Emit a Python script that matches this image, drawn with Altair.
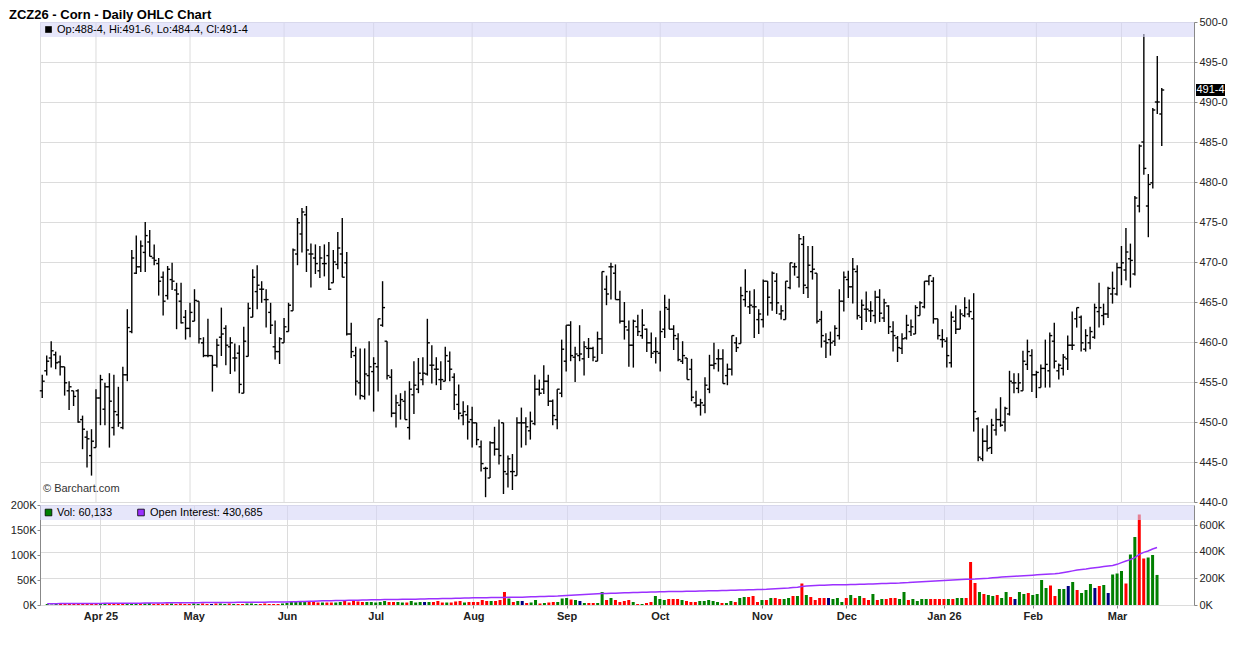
import altair as alt
import pandas as pd
import numpy as np

FONT = "Liberation Sans"
TITLE = "ZCZ26 - Corn - Daily OHLC Chart"
FIRST_DAY = "2025-03-14"
LAST_DAY = "2026-03-13"
HOLIDAYS = ["2025-04-18", "2025-05-26", "2025-06-19", "2025-07-04", "2025-09-01",
            "2025-11-27", "2025-12-25", "2026-01-01", "2026-01-19", "2026-02-16"]
MONTH_LABELS = ["Apr 25", "May", "Jun", "Jul", "Aug", "Sep", "Oct", "Nov", "Dec",
                "Jan 26", "Feb", "Mar"]
PRICE_TICKS = [440, 445, 450, 455, 460, 465, 470, 475, 480, 485, 490, 495, 500]
VOL_TICKS = [0, 50000, 100000, 150000, 200000]
OI_TICKS = [0, 200000, 400000, 600000]

OPEN = [453.9, 456.4, 458.0, 458.4, 457.5, 456.9, 453.9, 453.9, 453.9, 450.3,
        448.1, 445.8, 446.8, 453.0, 451.6, 454.4, 449.3, 450.9, 449.3, 455.9,
        461.3, 468.6, 469.4, 471.2, 472.5, 470.5, 469.8, 468.1, 465.8, 467.8,
        466.5, 465.1, 463.1, 461.7, 462.6, 465.1, 459.9, 458.3, 458.3, 457.1,
        460.6, 461.7, 459.4, 458.0, 458.6, 453.6, 458.2, 463.1, 466.3, 466.6,
        465.3, 463.7, 459.4, 458.8, 459.9, 461.3, 463.9, 471.0, 473.5, 475.9,
        471.0, 470.5, 468.9, 469.8, 470.8, 467.4, 469.7, 471.0, 469.9, 461.0,
        458.3, 454.9, 453.2, 455.8, 456.3, 456.9, 462.1, 460.1, 455.6, 451.1,
        452.1, 452.6, 449.3, 453.4, 454.1, 455.3, 456.0, 457.1, 456.6, 455.3,
        455.1, 457.6, 455.6, 452.2, 450.8, 450.9, 450.3, 449.9, 446.9, 444.2,
        443.0, 447.4, 446.6, 449.9, 443.5, 443.8, 443.3, 449.9, 449.9, 448.9,
        449.8, 454.1, 454.1, 455.1, 452.6, 450.3, 453.6, 457.6, 462.1, 458.1,
        458.3, 457.9, 459.2, 459.2, 457.6, 460.4, 466.6, 469.4, 468.6, 465.3,
        462.6, 461.5, 459.6, 461.9, 460.8, 461.6, 459.9, 458.8, 458.6, 461.6,
        464.1, 461.6, 460.4, 457.6, 458.0, 456.6, 452.4, 452.1, 452.1, 454.1,
        457.1, 457.9, 457.9, 455.8, 456.6, 459.9, 459.8, 465.3, 464.4, 464.4,
        462.8, 462.8, 467.6, 464.9, 467.6, 463.5, 462.8, 466.8, 469.4, 468.1,
        472.2, 466.8, 468.8, 468.6, 462.8, 460.1, 460.3, 460.1, 460.8, 465.1,
        467.8, 466.9, 468.8, 463.1, 464.1, 463.9, 463.3, 465.6, 463.0, 464.5,
        461.3, 460.5, 459.2, 460.5, 461.3, 461.0, 463.3, 464.4, 467.6, 467.6,
        462.9, 460.3, 460.1, 457.4, 462.6, 461.6, 463.3, 463.5, 462.9, 450.4,
        445.4, 447.6, 446.8, 449.0, 450.3, 450.0, 451.0, 454.9, 454.2, 453.9,
        457.2, 458.3, 455.9, 454.3, 456.7, 456.4, 460.1, 456.4, 456.7, 457.9,
        459.6, 462.9, 463.1, 459.1, 459.9, 460.6, 463.8, 463.3, 463.5, 466.0,
        466.0, 469.3, 469.0, 470.4, 468.5, 477.0, 485.0, 477.0, 479.9, 490.0, 488.5]

HIGH = [455.9, 458.3, 460.1, 458.8, 458.3, 456.9, 455.1, 453.9, 454.1, 450.8,
        448.9, 449.1, 454.1, 455.9, 454.9, 456.1, 455.9, 454.4, 456.9, 464.1,
        471.5, 473.3, 472.7, 475.0, 474.0, 472.2, 470.5, 468.8, 469.5, 469.9,
        467.4, 467.4, 464.0, 464.9, 466.6, 465.1, 460.6, 462.9, 458.3, 460.4,
        464.3, 462.1, 460.6, 459.8, 459.6, 461.9, 464.9, 469.1, 469.6, 467.6,
        466.6, 464.9, 462.7, 460.6, 463.0, 464.9, 471.7, 475.5, 476.75, 477.0,
        472.3, 472.2, 472.0, 472.2, 472.5, 471.5, 473.75, 475.5, 471.25, 462.4,
        459.4, 459.2, 459.2, 460.1, 458.1, 462.9, 467.6, 460.1, 456.6, 453.4,
        453.6, 453.9, 455.1, 457.6, 458.0, 458.1, 462.9, 459.6, 458.1, 457.6,
        459.4, 458.8, 456.1, 454.7, 452.6, 452.1, 451.9, 449.9, 447.7, 444.4,
        447.6, 449.4, 450.3, 449.9, 445.8, 446.0, 450.6, 451.8, 450.6, 451.3,
        455.9, 455.3, 457.1, 455.9, 452.8, 454.1, 460.3, 462.1, 462.6, 459.4,
        462.1, 460.1, 460.5, 459.4, 461.3, 468.8, 468.3, 469.9, 469.7, 466.4,
        465.0, 462.7, 462.8, 463.4, 464.1, 461.7, 461.2, 460.6, 463.9, 465.9,
        465.4, 462.1, 461.1, 460.1, 458.0, 457.9, 453.9, 452.9, 455.6, 458.4,
        459.9, 459.1, 459.1, 457.3, 460.8, 460.6, 466.9, 469.1, 466.4, 466.6,
        464.1, 467.8, 467.6, 468.8, 468.6, 464.6, 467.6, 469.9, 469.9, 473.5,
        473.25, 472.0, 472.0, 468.6, 463.9, 461.1, 461.3, 462.1, 466.6, 468.8,
        468.9, 470.5, 469.6, 465.3, 466.3, 465.1, 466.4, 466.6, 465.4, 464.6,
        462.6, 460.75, 461.1, 463.4, 462.8, 464.6, 465.1, 467.6, 468.3, 468.1,
        462.9, 461.6, 460.6, 463.8, 464.6, 464.1, 465.6, 465.3, 466.1, 450.6,
        449.2, 449.6, 450.4, 451.7, 453.1, 451.9, 456.4, 456.1, 456.1, 458.9,
        460.3, 459.1, 456.4, 457.2, 460.3, 461.2, 462.4, 457.3, 458.5, 460.8,
        463.8, 464.3, 463.3, 461.6, 461.9, 464.8, 467.4, 464.8, 466.9, 468.8,
        469.9, 472.0, 474.25, 472.3, 478.25, 484.7, 498.5, 481.0, 489.25, 495.75, 491.75]

LOW = [453.0, 455.8, 456.8, 456.6, 455.8, 453.3, 451.5, 452.0, 449.9, 446.6,
       444.3, 443.3, 446.8, 449.6, 449.6, 446.8, 448.3, 449.4, 449.1, 455.1,
       461.1, 468.5, 468.75, 468.75, 470.7, 469.6, 465.8, 463.3, 465.3, 466.5,
       461.6, 462.3, 460.3, 460.6, 462.6, 459.8, 458.1, 458.1, 453.8, 456.8,
       458.25, 457.1, 456.0, 456.3, 453.6, 453.6, 458.2, 463.1, 464.1, 464.9,
       461.8, 461.0, 457.8, 457.25, 459.9, 461.3, 463.9, 469.6, 471.2, 468.75,
       466.8, 468.5, 468.0, 468.2, 466.5, 467.4, 469.1, 468.1, 460.8, 458.0,
       453.3, 452.8, 452.8, 453.3, 451.3, 453.8, 461.9, 455.3, 450.6, 449.3,
       450.3, 450.3, 447.8, 451.0, 453.6, 454.6, 455.8, 454.8, 454.6, 454.0,
       455.1, 455.1, 451.5, 450.3, 449.6, 447.8, 446.8, 447.1, 443.8, 440.6,
       443.0, 445.8, 444.7, 441.0, 441.8, 441.5, 443.3, 446.8, 447.1, 447.8,
       449.6, 453.3, 453.5, 452.0, 449.6, 449.1, 453.1, 456.3, 457.6, 455.0,
       457.6, 455.8, 458.0, 457.6, 457.6, 458.5, 464.6, 465.3, 465.3, 462.3,
       460.3, 456.9, 456.8, 460.75, 460.4, 458.75, 458.0, 457.3, 456.3, 460.5,
       461.6, 459.0, 457.6, 457.25, 455.3, 452.6, 451.8, 450.8, 451.1, 453.6,
       456.6, 456.3, 454.8, 454.6, 455.8, 458.75, 459.8, 464.4, 463.5, 460.5,
       461.0, 461.8, 463.3, 463.9, 463.5, 462.8, 462.8, 466.6, 468.3, 466.8,
       466.0, 465.5, 467.8, 462.3, 459.3, 458.0, 458.3, 459.5, 460.3, 463.8,
       465.5, 464.8, 462.8, 461.5, 462.5, 462.5, 462.3, 462.5, 462.5, 461.0,
       458.8, 457.5, 458.5, 460.3, 460.75, 461.0, 463.3, 464.2, 467.1, 462.3,
       460.3, 459.3, 456.8, 456.8, 461.0, 461.6, 463.1, 463.1, 448.8, 445.1,
       445.1, 446.3, 446.0, 448.3, 449.4, 448.8, 450.8, 453.6, 453.6, 453.9,
       456.5, 453.75, 453.0, 454.3, 454.3, 454.3, 456.7, 455.3, 455.8, 456.5,
       459.0, 461.8, 458.8, 458.8, 459.1, 460.4, 461.8, 462.1, 463.0, 464.8,
       465.8, 467.1, 467.7, 466.8, 468.3, 476.2, 480.9, 473.1, 479.2, 488.5, 484.5]

CLOSE = [455.1, 457.6, 458.9, 457.4, 456.9, 454.9, 454.4, 453.2, 450.0, 449.1,
         447.9, 447.6, 453.0, 455.3, 454.4, 452.6, 451.3, 449.9, 455.9, 461.8,
         470.5, 469.4, 472.0, 473.3, 470.7, 470.2, 467.6, 465.1, 469.1, 467.6,
         466.0, 462.4, 461.7, 463.7, 465.2, 460.4, 458.3, 458.3, 457.1, 459.6,
         461.0, 459.6, 459.9, 458.0, 454.7, 460.1, 464.2, 468.1, 467.1, 466.6,
         465.3, 462.1, 458.8, 460.4, 461.9, 464.6, 471.5, 474.9, 476.25, 471.5,
         471.0, 469.8, 470.5, 469.8, 466.6, 470.0, 471.75, 468.1, 461.0, 458.8,
         455.1, 453.3, 456.0, 456.9, 457.3, 462.9, 464.3, 455.8, 451.1, 452.4,
         452.8, 450.3, 454.1, 454.6, 456.1, 456.1, 459.9, 457.1, 456.6, 455.3,
         458.3, 456.6, 453.4, 451.1, 451.3, 450.0, 449.9, 447.8, 444.8, 444.2,
         447.4, 446.6, 445.8, 443.8, 445.4, 443.8, 449.9, 449.9, 449.4, 450.1,
         454.1, 453.6, 455.1, 452.6, 450.8, 454.1, 459.1, 462.1, 458.3, 458.5,
         458.5, 459.4, 459.2, 458.1, 460.4, 468.8, 466.0, 469.4, 465.3, 462.6,
         461.9, 459.6, 462.6, 461.3, 462.1, 459.9, 458.6, 458.8, 461.3, 464.3,
         461.6, 460.8, 457.8, 458.3, 455.3, 453.1, 452.1, 452.4, 454.6, 457.1,
         457.3, 457.9, 454.8, 456.6, 460.8, 459.3, 465.8, 466.3, 464.6, 464.4,
         463.5, 467.6, 465.6, 468.6, 464.9, 463.9, 467.6, 469.9, 469.4, 472.9,
         467.1, 469.6, 469.1, 462.6, 460.8, 459.9, 459.9, 461.7, 465.1, 468.1,
         466.9, 469.1, 463.3, 464.6, 464.1, 463.9, 465.6, 463.6, 464.9, 461.9,
         460.8, 459.3, 460.4, 462.1, 461.9, 464.3, 464.9, 467.6, 468.3, 462.9,
         460.8, 460.3, 458.3, 463.1, 461.6, 463.5, 464.3, 463.8, 451.3, 445.6,
         447.6, 446.7, 449.6, 450.3, 449.6, 451.7, 455.1, 454.9, 454.9, 457.6,
         458.8, 455.9, 456.2, 456.7, 457.2, 460.8, 457.6, 457.1, 458.1, 459.6,
         459.6, 464.3, 459.9, 460.8, 461.3, 464.3, 464.3, 463.5, 466.7, 466.7,
         469.3, 469.9, 471.25, 470.2, 478.0, 484.5, 481.7, 479.7, 489.0, 490.0, 491.5]

# daily volume, thousands of contracts
VOLUME_K = [2, 1, 3, 2, 2, 3, 2, 2, 3, 3, 2, 3,
            3, 2, 3, 2, 3, 2, 2, 3, 4, 3, 3, 4, 2, 3, 2, 3, 3, 2, 3, 2, 2,
            3, 2, 3, 2, 2, 3, 3, 2, 3, 2, 2, 2, 3, 3, 2, 2, 3, 2, 2, 2,
            3, 4, 6, 8, 8, 7, 7, 7, 5, 5, 5, 5, 5, 6, 8, 5, 8, 7, 6, 6, 6, 5, 6, 8, 6, 6, 6, 5, 5,
            8, 5, 6, 6, 6, 6, 8, 5, 5, 5, 7, 8, 5, 6, 6, 6, 10, 8, 8, 8, 10, 26,
            13, 6, 8, 8, 4, 5, 10, 3, 4, 5, 6, 6, 13, 14, 11, 10, 8, 4, 4, 4, 4, 26,
            10, 14, 10, 6, 8, 10, 6, 2, 2, 4, 6, 18, 12, 10, 12, 12, 12, 10, 8, 6,
            6, 8, 8, 10, 8, 6, 4, 4, 8, 6, 14, 16, 16, 18, 6, 10, 10, 14, 14, 12,
            12, 14, 18, 18, 43,
            20, 16, 10, 14,
            14, 14, 12, 14, 6, 14, 20, 14, 18, 14, 10, 22, 10, 12, 12, 14, 14, 12, 26, 10,
            12, 8, 12, 12, 12, 12, 12, 12, 12, 12, 14, 14, 14, 86, 44, 26, 22, 20, 18, 20,
            14, 26, 16, 12, 26, 22, 24, 20, 22, 50, 34, 39, 18, 32, 32, 38, 46, 30, 24, 30,
            42, 34, 38, 40, 24,
            61, 63, 68, 43, 101, 136, 181, 93, 95, 100, 60.133]

# open interest, thousands of contracts
OI_K = [10, 10, 10, 11, 11, 11, 11, 12, 12, 12, 12, 12,
        12, 13, 13, 13, 13, 13, 14, 14, 14, 14, 15, 15, 15, 15, 15, 16, 16, 16, 16, 17, 17,
        17, 17, 18, 18, 18, 18, 19, 19, 19, 19, 20, 20, 20, 20, 21, 21, 21, 22, 22, 22, 23,
        23, 24, 25, 26, 27, 28, 29, 30, 31, 31, 32, 33, 33, 34, 35, 35, 36, 37, 38, 39,
        40, 40, 41, 41, 42, 42, 43, 43, 44, 44, 45, 45, 46, 47, 47, 48, 48, 49, 50, 51, 52, 53,
        54, 54, 55, 55, 56, 56, 57, 57, 58, 58, 59, 59, 60, 61, 62, 63, 64, 65, 66, 67, 69,
        71, 73, 75, 77, 79, 81, 83, 85, 86, 87, 88, 89, 90, 91, 92, 93, 94, 95, 96, 97, 98,
        99, 100, 101, 101, 102, 102, 103, 103, 104, 105, 105, 106, 107, 107, 108, 109, 110,
        111, 112, 113, 114, 115, 116,
        117, 118, 120, 122, 124, 126, 128, 131, 134, 138, 142, 145, 147, 148, 149, 150, 151,
        151, 152,
        152, 153, 154, 155, 156, 157, 158, 160, 161, 162, 163, 164, 165, 167, 168, 170, 172,
        174, 176, 178, 180, 182,
        184, 186, 188, 190, 192, 193, 194, 195, 197, 199, 201, 204, 207, 210, 212, 214, 216,
        218, 220, 222,
        224, 226, 228, 230, 232, 234, 238, 244, 250, 256, 262, 266, 270, 275, 280, 284, 288,
        292, 296,
        305, 318, 330, 340, 355, 380, 395, 405, 420, 430.685]

# ---------------------------------------------------------------- frame
W, H1, H2 = 1154, 480, 100
X_DOMAIN = [-0.5, 257.2]
GREEN, RED, NAVY, PURPLE = "#008000", "#FF0000", "#000080", "#9B30FF"
GRID = "#dcdcdc"

dates = pd.bdate_range(FIRST_DAY, LAST_DAY, freq="C", holidays=HOLIDAYS)
n = len(OPEN)
df = pd.DataFrame({
    "i": list(range(n)),
    "o": OPEN, "h": HIGH, "l": LOW, "c": CLOSE,
    "v": [int(round(k * 1000)) for k in VOLUME_K],
    "oi": [int(round(k * 1000)) for k in OI_K],
})
prev = df["c"].shift(1).fillna(df["c"].iloc[0] - 1)
df["dir"] = np.where(df["c"] > prev, "up", np.where(df["c"] < prev, "down", "flat"))

month_idx = [i for i in range(1, n) if dates[i].month != dates[i - 1].month]
months_df = pd.DataFrame({"i": month_idx, "label": MONTH_LABELS[:len(month_idx)]})
lab_expr = "".join(f"datum.value=={i}?'{l}':" for i, l in zip(month_idx, MONTH_LABELS)) + "''"


def bc(v):
    whole = int(np.floor(v + 1e-9))
    eighths = int(round((v - whole) * 8))
    return f"{whole}-{eighths}"


last = df.iloc[[-1]].copy()
last["lbl"] = bc(last["c"].iloc[0])
legend_price = (f"Op:{bc(OPEN[-1])}, Hi:{bc(HIGH[-1])}, "
                f"Lo:{bc(LOW[-1])}, Cl:{bc(CLOSE[-1])}")
legend_vol = f"Vol: {int(round(VOLUME_K[-1] * 1000)):,}"
legend_oi = f"Open Interest: {int(round(OI_K[-1] * 1000)):,}"

xs = alt.Scale(domain=X_DOMAIN, nice=False, zero=False)
ys = alt.Scale(domain=[440, 500], nice=False, zero=False)
one = pd.DataFrame({"k": [0]})

PAXIS = alt.Axis(orient="right", values=PRICE_TICKS, labelExpr="datum.value + '-0'",
                 grid=True, gridColor=GRID, domainColor="#888", tickColor="#888",
                 tickSize=3, labelPadding=2, labelFontSize=11, labelColor="#222",
                 labelFont=FONT, labelFlush=False, labelOverlap=False, title=None)


def XN(f):
    return alt.X(f, scale=xs, axis=None, title=None)


def YP(f):
    return alt.Y(f, scale=ys, axis=PAXIS, title=None)


base = alt.Chart(df)

vgrid = alt.Chart(months_df).mark_rule(color=GRID, strokeWidth=1).encode(x=XN("i:Q"))

hl = base.mark_rule(color="black", strokeWidth=1.4).encode(x=XN("i:Q"), y=YP("h:Q"), y2="l:Q")
otick = base.transform_calculate(xl="datum.i - 0.55").mark_rule(
    color="black", strokeWidth=1.4).encode(x=XN("xl:Q"), x2="i:Q", y=YP("o:Q"))
ctick = base.transform_calculate(xr="datum.i + 0.55").mark_rule(
    color="black", strokeWidth=1.4).encode(x=XN("i:Q"), x2="xr:Q", y=YP("c:Q"))

band = alt.Chart(one).mark_rect(color="#d5d5f7", opacity=0.6).encode(
    x=alt.value(0), x2=alt.value(W), y=alt.value(0), y2=alt.value(15))
sq = alt.Chart(one).mark_square(size=44, color="black", opacity=1).encode(
    x=alt.value(8.5), y=alt.value(7.5))
ltxt = alt.Chart(one).mark_text(align="left", baseline="middle", fontSize=11, font=FONT,
                                color="black").encode(
    x=alt.value(17), y=alt.value(8), text=alt.value(legend_price))
copy = alt.Chart(one).mark_text(align="left", baseline="middle", fontSize=11, font=FONT,
                                color="#333").encode(
    x=alt.value(3), y=alt.value(H1 - 13), text=alt.value("© Barchart.com"))
title = alt.Chart(one).mark_text(align="left", baseline="middle", fontSize=13, font=FONT,
                                 fontWeight="bold", color="black").encode(
    x=alt.value(-31), y=alt.value(-7.5), text=alt.value(TITLE))

lastbox = alt.Chart(last).transform_calculate(
    top="datum.c + 0.75", bot="datum.c - 0.75").mark_rect(color="black").encode(
    x=alt.value(W + 2), x2=alt.value(W + 31), y=YP("top:Q"), y2="bot:Q")
lasttxt = alt.Chart(last).mark_text(color="white", fontSize=11, font=FONT, align="center",
                                    baseline="middle").encode(
    x=alt.value(W + 16.5), y=YP("c:Q"), text="lbl:N")

price = alt.layer(vgrid, hl, otick, ctick, band, sq, ltxt, copy, title, lastbox,
                  lasttxt).properties(width=W, height=H1)

# ---------------------------------------------------------------- volume panel
XAX = alt.Axis(values=month_idx, labelExpr=lab_expr, grid=True, gridColor=GRID,
               domain=False, tickColor="#888", tickSize=3, labelPadding=2,
               labelFontSize=11, labelFontWeight="bold", labelColor="#222",
               labelFont=FONT, labelFlush=False, labelOverlap=False, title=None)

vbar = base.mark_bar(size=3).encode(
    x=alt.X("i:Q", scale=xs, axis=XAX, title=None),
    y=alt.Y("v:Q", scale=alt.Scale(domain=[0, 200000], nice=False), title=None,
            axis=alt.Axis(orient="left", values=VOL_TICKS,
                          labelExpr="(datum.value/1000) + 'K'", grid=False,
                          tickSize=3, labelPadding=1, domainColor="#888", tickColor="#888",
                          labelFontSize=11, labelColor="#222", labelFont=FONT,
                          labelFlush=False, labelOverlap=False, title=None)),
    color=alt.Color("dir:N", scale=alt.Scale(domain=["up", "down", "flat"],
                                             range=[GREEN, RED, NAVY]), legend=None),
)
oiline = base.mark_line(color=PURPLE, strokeWidth=1.5).encode(
    x=alt.X("i:Q", scale=xs, axis=XAX, title=None),
    y=alt.Y("oi:Q", scale=alt.Scale(domain=[0, 750000], nice=False), title=None,
            axis=alt.Axis(orient="right", values=OI_TICKS,
                          labelExpr="(datum.value/1000) + 'K'", grid=True, gridColor=GRID,
                          tickSize=3, labelPadding=2, domainColor="#888", tickColor="#888",
                          labelFontSize=11, labelColor="#222", labelFont=FONT,
                          labelFlush=False, labelOverlap=False, title=None)),
)
vband = alt.Chart(one).mark_rect(color="#d5d5f7", opacity=0.6).encode(
    x=alt.value(0), x2=alt.value(W), y=alt.value(0), y2=alt.value(15))
vsq1 = alt.Chart(one).mark_square(size=44, color=GREEN, opacity=1, stroke="black",
                                  strokeWidth=0.8).encode(x=alt.value(8.5), y=alt.value(7.5))
vtxt1 = alt.Chart(one).mark_text(align="left", baseline="middle", fontSize=11, font=FONT,
                                 color="black").encode(
    x=alt.value(17), y=alt.value(8), text=alt.value(legend_vol))
vsq2 = alt.Chart(one).mark_square(size=44, color=PURPLE, opacity=1, stroke="black",
                                  strokeWidth=0.8).encode(x=alt.value(101), y=alt.value(7.5))
vtxt2 = alt.Chart(one).mark_text(align="left", baseline="middle", fontSize=11, font=FONT,
                                 color="black").encode(
    x=alt.value(110), y=alt.value(8), text=alt.value(legend_oi))

volume = alt.layer(vbar, oiline, vband, vsq1, vtxt1, vsq2, vtxt2).resolve_scale(
    y="independent").properties(width=W, height=H2)

chart = alt.vconcat(price, volume, spacing=3, bounds="flush").properties(
    padding={"left": 0, "top": 0, "right": 0, "bottom": 2}
).configure_view(stroke="#999").configure(font=FONT)

chart.save("out.html", embed_options={"renderer": "svg", "actions": False})
